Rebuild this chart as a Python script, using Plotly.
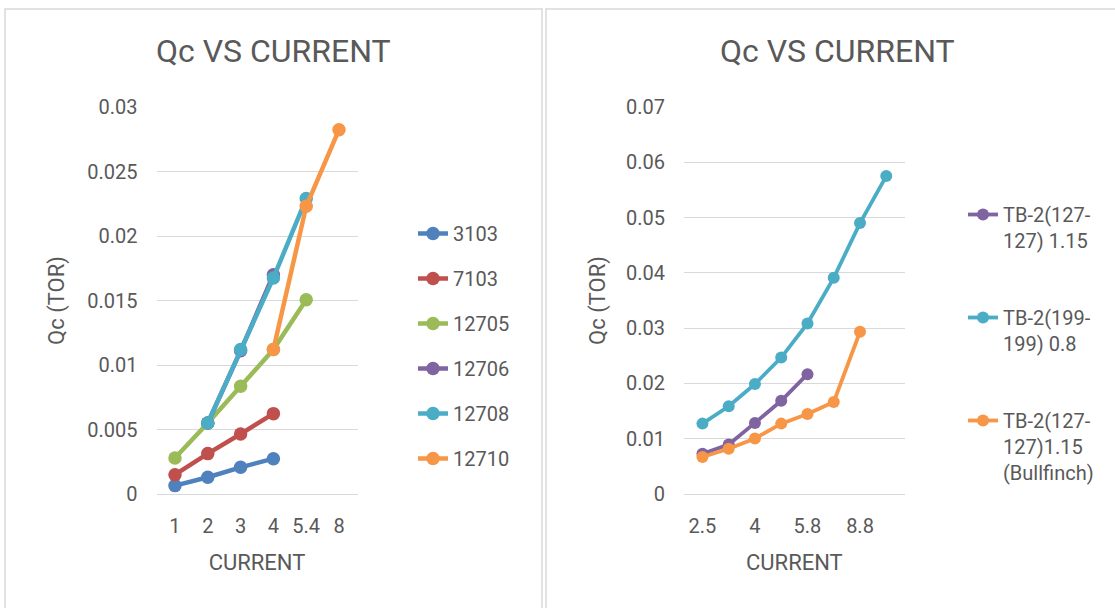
import plotly.graph_objects as go

# ---------------- data ----------------
left_categories = ["1", "2", "3", "4", "5.4", "8"]
left_series_names = ["3103", "7103", "12705", "12706", "12708", "12710"]
s3103 = [0.00065, 0.0013, 0.00207, 0.00274]
s7103 = [0.0015, 0.00313, 0.00465, 0.00623]
s12705 = [0.00279, 0.0055, 0.00835, 0.0112, 0.01506]
s12706 = [0.0055, 0.0111, 0.0170]
s12708 = [0.0055, 0.0112, 0.01675, 0.0229]
s12710 = [0.0112, 0.0223, 0.02824]
left_x = [
    left_categories[0:4],
    left_categories[0:4],
    left_categories[0:5],
    left_categories[1:4],
    left_categories[1:5],
    left_categories[3:6],
]
left_y = [s3103, s7103, s12705, s12706, s12708, s12710]

right_categories = ["2.5", "3.3", "4", "5", "5.8", "7", "8.8", "10"]
right_tick_labels = ["2.5", "4", "5.8", "8.8"]
right_series_names = ["TB-2(127-<br>127) 1.15", "TB-2(199-<br>199) 0.8", "TB-2(127-<br>127)1.15<br>(Bullfinch)"]
tb_127_115 = [0.00728, 0.00896, 0.01286, 0.01687, 0.02167]
tb_199_08 = [0.01273, 0.01586, 0.0199, 0.02468, 0.03085, 0.0391, 0.049, 0.0575]
tb_127_bull = [0.00669, 0.00818, 0.01004, 0.01273, 0.01448, 0.01664, 0.02935]
right_y = [tb_127_115, tb_199_08, tb_127_bull]

# ---------------- styles ----------------
left_colors = ["#4F81BD", "#C0504D", "#9BBB59", "#8064A2", "#4BACC6", "#F79646"]
right_colors = ["#8064A2", "#4BACC6", "#F79646"]
TXT = "#595959"
GRID = "#D9D9D9"
FONT = "Roboto"

fig = go.Figure()

for i, name in enumerate(left_series_names):
    fig.add_trace(go.Scatter(
        x=left_x[i], y=left_y[i], name=name, mode="lines+markers",
        line=dict(color=left_colors[i], width=4.5),
        marker=dict(color=left_colors[i], size=13.5),
        xaxis="x", yaxis="y", legend="legend", legendgroup="L" + name,
    ))

for i, name in enumerate(right_series_names):
    fig.add_trace(go.Scatter(
        x=right_categories[:len(right_y[i])], y=right_y[i], name=name,
        mode="lines+markers",
        line=dict(color=right_colors[i], width=3.8),
        marker=dict(color=right_colors[i], size=12),
        xaxis="x2", yaxis="y2", legend="legend2", legendgroup="R" + str(i),
    ))

W, H = 1115, 608
axis_common = dict(
    tickfont=dict(family=FONT, size=20, color=TXT),
    zeroline=False, ticks="", automargin=False,
)
title_font = dict(family=FONT, size=22, color=TXT)

fig.update_layout(
    width=W, height=H,
    margin=dict(l=0, r=0, t=0, b=0, autoexpand=False),
    paper_bgcolor="white", plot_bgcolor="white",
    font=dict(family=FONT, color=TXT),
    xaxis=dict(
        domain=[156.5 / W, 357.5 / W], type="category",
        categoryorder="array", categoryarray=left_categories,
        showgrid=False, anchor="y", ticklabelstandoff=14,
        showline=True, linecolor=GRID, linewidth=1.3,
        title=dict(text="CURRENT", font=title_font, standoff=17),
        **axis_common,
    ),
    yaxis=dict(
        domain=[1 - 494 / H, 1 - 107 / H], range=[0, 0.03], dtick=0.005,
        showgrid=True, gridcolor=GRID, gridwidth=1.3, anchor="x",
        showline=False, ticklabelstandoff=18, tickformat="~g",
        title=dict(text="Qc (TOR)", font=title_font, standoff=16),
        **axis_common,
    ),
    xaxis2=dict(
        domain=[683.9 / W, 904.8 / W], type="category",
        categoryorder="array", categoryarray=right_categories,
        tickvals=right_tick_labels, ticktext=right_tick_labels,
        showgrid=False, anchor="y2", ticklabelstandoff=14,
        showline=True, linecolor=GRID, linewidth=1.3,
        title=dict(text="CURRENT", font=title_font, standoff=17),
        **axis_common,
    ),
    yaxis2=dict(
        domain=[1 - 494 / H, 1 - 107 / H], range=[0, 0.07], dtick=0.01,
        showgrid=True, gridcolor=GRID, gridwidth=1.3, anchor="x2",
        showline=False, ticklabelstandoff=18, tickformat="~g",
        title=dict(text="Qc (TOR)", font=title_font, standoff=14),
        **axis_common,
    ),
    legend=dict(
        x=413 / W, y=1 - 214 / H, xanchor="left", yanchor="top",
        font=dict(family=FONT, size=20, color=TXT),
        bgcolor="rgba(0,0,0,0)", tracegroupgap=16, itemwidth=30,
    ),
    legend2=dict(
        x=963 / W, y=1 - 195 / H, xanchor="left", yanchor="top",
        font=dict(family=FONT, size=20, color=TXT),
        bgcolor="rgba(0,0,0,0)", tracegroupgap=48, itemwidth=30, valign="top",
    ),
    showlegend=True,
)

# chart titles
for cx, txt in [(273.5, "Qc VS CURRENT"), (837, "Qc VS CURRENT")]:
    fig.add_annotation(
        x=cx / W, y=1 - 51 / H, xref="paper", yref="paper",
        text=txt, showarrow=False, xanchor="center", yanchor="middle",
        font=dict(family=FONT, size=32, color=TXT),
    )

# panel borders
for x0, x1 in [(5, 542), (546, 1118)]:
    fig.add_shape(
        type="rect", xref="paper", yref="paper",
        x0=x0 / W, x1=x1 / W, y0=1 - 9 / H, y1=-0.02,
        line=dict(color=GRID, width=1.5), fillcolor="rgba(0,0,0,0)", layer="below",
    )

fig.write_html(
    "out.html",
    config={"displayModeBar": False},
    post_script="document.body.style.margin='0';document.body.style.overflow='hidden';",
)
